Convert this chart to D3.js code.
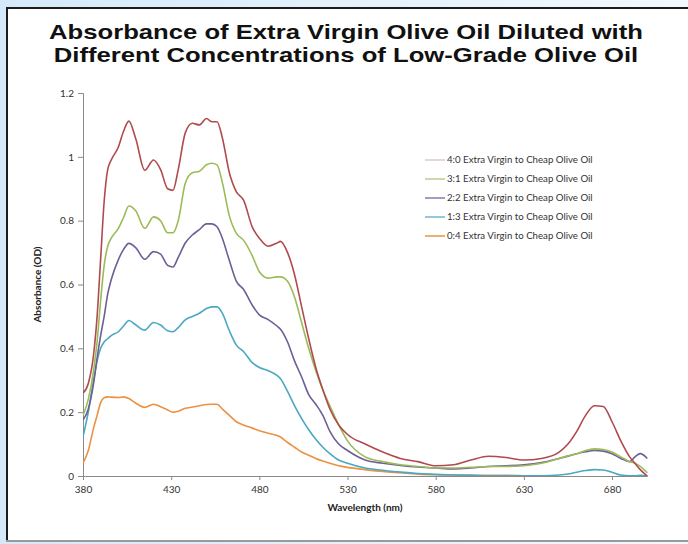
<!DOCTYPE html>
<html>
<head>
<meta charset="utf-8">
<script src="https://cdn.jsdelivr.net/npm/d3@7/dist/d3.min.js"></script>
<style>
  html, body { margin: 0; padding: 0; background: #fff; }
  svg { display: block; }
</style>
</head>
<body>
<svg id="chart" width="688" height="544"></svg>
<script>
// Wavelength grid (nm) shared by all spectra
const wavelengths = [380,383,386,388,390,392,394,396,400,403,406,410,415,420,424,428,431,434,438,442,446,450,453,456,459,463,467,471,476,480,485,490,492,496,500,504,508,512,516,520,525,530,540,550,560,570,580,590,600,610,620,630,640,650,655,660,665,670,675,680,685,690,693,696,700];

// Absorbance (OD) per blend
const ratio40 = [0.26,0.29,0.38,0.50,0.68,0.86,0.96,0.99,1.03,1.08,1.112,1.055,0.958,0.99,0.96,0.90,0.895,0.96,1.075,1.105,1.10,1.12,1.11,1.11,1.06,0.95,0.89,0.865,0.78,0.745,0.72,0.73,0.735,0.70,0.63,0.53,0.43,0.34,0.27,0.21,0.16,0.13,0.10,0.075,0.055,0.045,0.032,0.035,0.05,0.062,0.058,0.05,0.055,0.075,0.10,0.14,0.19,0.22,0.218,0.17,0.11,0.06,0.04,0.02,0.0];
const ratio31 = [0.19,0.24,0.33,0.42,0.55,0.66,0.72,0.745,0.775,0.81,0.846,0.83,0.776,0.812,0.80,0.762,0.762,0.80,0.917,0.95,0.955,0.975,0.98,0.975,0.92,0.815,0.76,0.739,0.69,0.64,0.62,0.624,0.624,0.61,0.56,0.48,0.40,0.33,0.27,0.22,0.16,0.11,0.06,0.045,0.035,0.03,0.025,0.025,0.027,0.03,0.03,0.032,0.04,0.055,0.063,0.07,0.08,0.085,0.083,0.075,0.06,0.045,0.04,0.03,0.01];
const ratio22 = [0.175,0.21,0.29,0.37,0.44,0.50,0.57,0.615,0.677,0.71,0.729,0.715,0.679,0.703,0.695,0.66,0.655,0.685,0.73,0.755,0.772,0.79,0.79,0.781,0.745,0.675,0.61,0.585,0.535,0.505,0.49,0.47,0.46,0.42,0.36,0.31,0.255,0.225,0.19,0.14,0.10,0.08,0.05,0.04,0.033,0.028,0.025,0.022,0.025,0.03,0.032,0.035,0.042,0.055,0.062,0.07,0.076,0.08,0.078,0.07,0.055,0.045,0.06,0.07,0.055];
const ratio13 = [0.123,0.20,0.30,0.36,0.40,0.42,0.43,0.44,0.452,0.47,0.487,0.473,0.457,0.481,0.473,0.455,0.452,0.465,0.489,0.50,0.51,0.525,0.53,0.53,0.51,0.455,0.41,0.39,0.355,0.34,0.33,0.315,0.305,0.265,0.22,0.18,0.145,0.115,0.09,0.07,0.05,0.04,0.025,0.018,0.012,0.008,0.005,0.003,0.002,0.001,0.001,0.001,0.001,0.003,0.006,0.012,0.017,0.02,0.019,0.012,0.003,0.001,0.001,0.002,0.0];
const ratio04 = [0.04,0.08,0.15,0.19,0.23,0.245,0.248,0.247,0.246,0.248,0.243,0.228,0.215,0.225,0.217,0.207,0.20,0.203,0.212,0.216,0.22,0.224,0.225,0.225,0.21,0.19,0.17,0.16,0.15,0.142,0.134,0.127,0.122,0.105,0.09,0.075,0.065,0.055,0.047,0.04,0.032,0.027,0.02,0.014,0.01,0.006,0.004,0.003,0.003,0.002,0.002,0.001,null,null,null,null,null,null,null,null,null,null,null,null,null];

const seriesNames = [
  "4:0 Extra Virgin to Cheap Olive Oil",
  "3:1 Extra Virgin to Cheap Olive Oil",
  "2:2 Extra Virgin to Cheap Olive Oil",
  "1:3 Extra Virgin to Cheap Olive Oil",
  "0:4 Extra Virgin to Cheap Olive Oil"
];
const seriesValues = [ratio40, ratio31, ratio22, ratio13, ratio04];
const lineColors = ["#b04a4e", "#9bbb59", "#6f5e96", "#4aa8c2", "#ec9042"];
const swatchColors = ["#dcc8cf", "#b9cf8c", "#8a7bab", "#72b6cc", "#ec9042"];

const xTicks = [380, 430, 480, 530, 580, 630, 680];
const yTicks = [0, 0.2, 0.4, 0.6, 0.8, 1, 1.2];

const titleLines = [
  "Absorbance of Extra Virgin Olive Oil Diluted with",
  "Different Concentrations of Low-Grade Olive Oil"
];

const svg = d3.select("#chart");

// page backdrop and framed panel
const defs = svg.append("defs");
const grad = defs.append("linearGradient").attr("id", "bg").attr("x1", 0).attr("x2", 1).attr("y1", 0).attr("y2", 0);
grad.append("stop").attr("offset", 0).attr("stop-color", "#d4eafa");
grad.append("stop").attr("offset", 1).attr("stop-color", "#f2f9fe");
svg.append("rect").attr("width", 688).attr("height", 544).attr("fill", "url(#bg)");
svg.append("rect").attr("x", 7).attr("y", 8).attr("width", 690).attr("height", 533)
  .attr("fill", "#fff").attr("stroke", "#1c1c1c").attr("stroke-width", 2);
svg.append("line").attr("x1", 6).attr("x2", 688).attr("y1", 541).attr("y2", 541)
  .attr("stroke", "#9a9a9a").attr("stroke-width", 2);

// title: two lines, widened horizontally so the first line spans the panel
const titleX = 346;
const titleG = svg.append("g");
const titleTexts = titleG.selectAll("text").data(titleLines).join("text")
  .attr("x", titleX).attr("y", (d, i) => 39 + i * 23)
  .attr("text-anchor", "middle")
  .attr("font-family", "'Liberation Sans', Arial, sans-serif")
  .attr("font-weight", 700).attr("font-size", 20)
  .attr("fill", "#111")
  .text(d => d);
const firstWidth = titleTexts.node().getComputedTextLength();
const stretch = 594 / firstWidth;
titleG.attr("transform", `translate(${titleX},0) scale(${stretch},1) translate(${-titleX},0)`);

const x = d3.scaleLinear().domain([380, 700]).range([83, 647.3]);
const y = d3.scaleLinear().domain([0, 1.2]).range([476, 93]);

const axisFont = "Lato, 'Open Sans', sans-serif";

// y axis
const gy = svg.append("g").attr("transform", `translate(${x(380)},0)`)
  .call(d3.axisLeft(y).tickValues(yTicks).tickSize(5).tickPadding(4)
    .tickFormat(d => d3.format("~g")(d)));
gy.select(".domain").attr("stroke", "#8a8a8a");
gy.selectAll(".tick line").attr("stroke", "#8a8a8a");
gy.selectAll("text").attr("font-family", axisFont).attr("font-size", 10).attr("fill", "#333");

// x axis
const gx = svg.append("g").attr("transform", `translate(0,${y(0)})`)
  .call(d3.axisBottom(x).tickValues(xTicks).tickSize(4).tickPadding(6).tickSizeOuter(0));
gx.select(".domain").attr("stroke", "#8a8a8a");
gx.selectAll(".tick line").attr("stroke", "#8a8a8a");
gx.selectAll("text").attr("font-family", axisFont).attr("font-size", 10).attr("fill", "#333");

// axis titles
svg.append("text")
  .attr("x", 365).attr("y", 511).attr("text-anchor", "middle")
  .attr("font-family", axisFont).attr("font-weight", 700).attr("font-size", 10).attr("fill", "#222")
  .text("Wavelength (nm)");
svg.append("text")
  .attr("transform", `translate(41,${(y(0) + y(1.2)) / 2}) rotate(-90)`)
  .attr("text-anchor", "middle")
  .attr("font-family", axisFont).attr("font-weight", 700).attr("font-size", 10).attr("fill", "#222")
  .text("Absorbance (OD)");

// spectra
defs.append("clipPath").attr("id", "plot").append("rect")
  .attr("x", x(380)).attr("y", y(1.2) - 5).attr("width", x(700) - x(380) + 5).attr("height", y(0) - y(1.2) + 5);

const line = d3.line()
  .defined(d => d[1] != null)
  .x(d => x(d[0]))
  .y(d => y(d[1]))
  .curve(d3.curveMonotoneX);

const order = [4, 3, 2, 1, 0];
svg.append("g").attr("clip-path", "url(#plot)")
  .selectAll("path").data(order).join("path")
  .attr("d", i => line(wavelengths.map((w, k) => [w, seriesValues[i][k]])))
  .attr("fill", "none")
  .attr("stroke", i => lineColors[i])
  .attr("stroke-width", 1.6)
  .attr("stroke-linejoin", "round");

// legend
const legend = svg.append("g").attr("transform", "translate(425,160)");
const rows = legend.selectAll("g").data(seriesNames).join("g")
  .attr("transform", (d, i) => `translate(0,${i * 19})`);
rows.append("line").attr("x1", 0).attr("x2", 20).attr("y1", 0).attr("y2", 0)
  .attr("stroke", (d, i) => swatchColors[i]).attr("stroke-width", 1.5);
const legendText = rows.append("text").attr("x", 22).attr("y", 3)
  .attr("font-family", axisFont).attr("font-size", 8.5).attr("fill", "#333")
  .text(d => d);
const legendWidth = legendText.node().getComputedTextLength();
legendText.attr("font-size", 8.5 * 146 / legendWidth);
</script>
</body>
</html>
